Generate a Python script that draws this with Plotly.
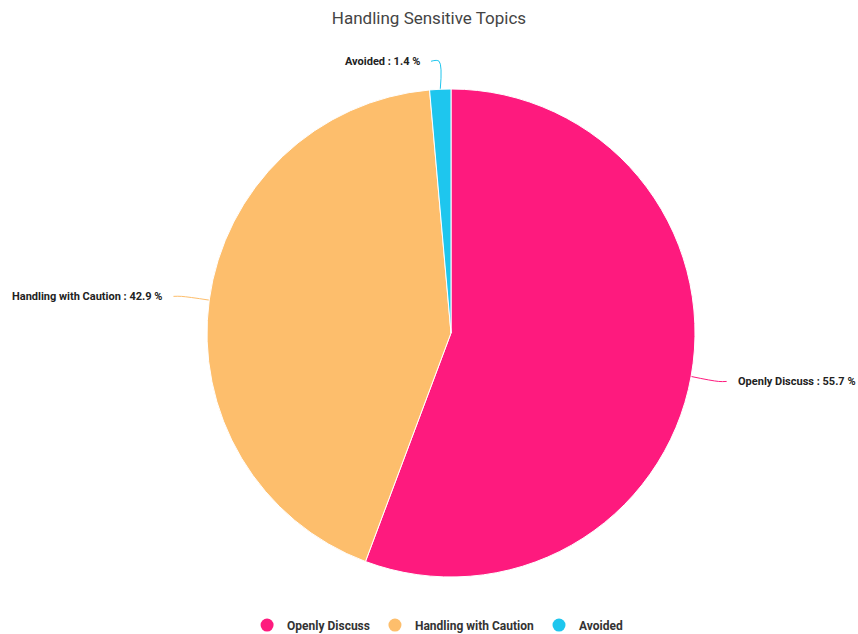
import math
import plotly.graph_objects as go

# Survey shares
labels = ["Openly Discuss", "Handling with Caution", "Avoided"]
values = [55.7, 42.9, 1.4]
colors = ["#FE1A7E", "#FDBE6C", "#1EC6EE"]

W, H = 858, 634
cx, cy, r = 451, 333, 244  # pie centre / radius in pixels

fig = go.Figure()

fig.add_trace(go.Pie(
    labels=labels, values=values, sort=False, direction="clockwise", rotation=0,
    marker=dict(colors=colors, line=dict(color="white", width=1)),
    textinfo="none", hoverinfo="label+percent", showlegend=False,
    domain=dict(x=[(cx - r) / W, (cx + r) / W], y=[(H - cy - r) / H, (H - cy + r) / H]),
))

# Leader lines and outside labels, positioned from each slice's mid-angle
total = sum(values)
cum = 0.0
for lab, v, c in zip(labels, values, colors):
    mid = (cum + v / 2) / total * 2 * math.pi
    cum += v
    sx, sy = math.sin(mid), -math.cos(mid)
    x0, y0 = cx + r * sx, cy + r * sy
    x1, y1 = cx + (r + 28) * sx, cy + (r + 28) * sy
    side = 1 if sx >= 0 else -1
    x2 = x1 + side * 8
    fig.add_trace(go.Scatter(
        x=[x0, x1, x2], y=[y0, y1, y1], mode="lines",
        line=dict(color=c, width=1, shape="spline"), hoverinfo="skip", showlegend=False,
        xaxis="x", yaxis="y",
    ))
    fig.add_annotation(
        x=x2 + side * 9, y=y1, xref="x", yref="y", showarrow=False,
        text=f"{lab} : {v} %", xanchor="left" if side > 0 else "right", yanchor="middle",
        font=dict(family="Roboto", size=11, color="#222", weight=700),
    )

# Legend entries with round markers
for lab, c in zip(labels, colors):
    fig.add_trace(go.Scatter(
        x=[None], y=[None], mode="markers", name=lab,
        marker=dict(color=c, size=13, symbol="circle"), xaxis="x", yaxis="y",
    ))

fig.update_layout(
    width=W, height=H, margin=dict(l=0, r=0, t=0, b=0, autoexpand=False),
    paper_bgcolor="white", plot_bgcolor="rgba(0,0,0,0)",
    title=dict(text="Handling Sensitive Topics", x=0.5, xanchor="center", y=0.972, yanchor="middle",
               font=dict(family="Roboto", size=17, color="#444")),
    xaxis=dict(range=[0, W], visible=False, fixedrange=True),
    yaxis=dict(range=[H, 0], visible=False, fixedrange=True),
    legend=dict(orientation="h", x=0.51, xanchor="center", y=0.014, yanchor="middle",
                font=dict(family="Roboto", size=12, color="#333", weight=700), itemwidth=30),
    font=dict(family="Roboto"),
)

fig.write_html("out.html")
